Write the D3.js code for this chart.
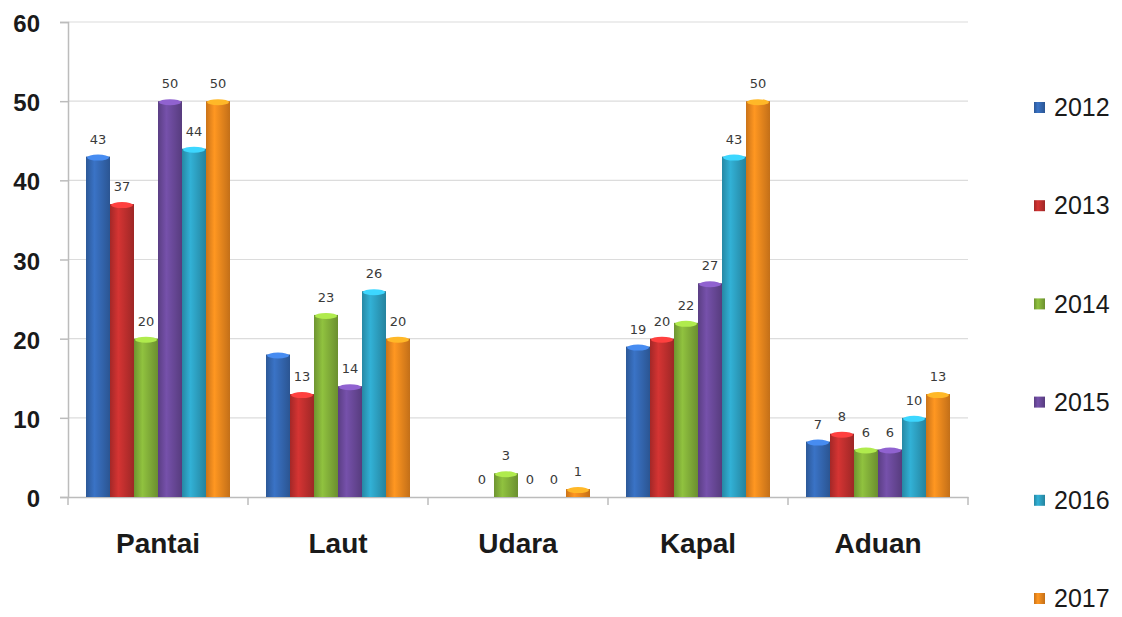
<!DOCTYPE html>
<html><head><meta charset="utf-8">
<script src="https://cdn.jsdelivr.net/npm/d3@7"></script>
<style>body{margin:0;background:#fff}svg{display:block}</style>
</head><body>
<svg id="c" width="1122" height="617"></svg>
<script>
const categories = ["Pantai","Laut","Udara","Kapal","Aduan"];
const years = ["2012","2013","2014","2015","2016","2017"];
const v2012 = [43,18,0,19,7];
const v2013 = [37,13,0,20,8];
const v2014 = [20,23,3,22,6];
const v2015 = [50,14,0,27,6];
const v2016 = [44,26,0,43,10];
const v2017 = [50,20,1,50,13];
const yTicks = [0,10,20,30,40,50,60];
// labels not shown in the original: [year index, category index]
const hiddenLabels = [[0,1],[0,2]];
const colors = ["#3569b5","#c3302f","#84b13a","#6c4a9c","#2ea2c4","#f28a1e"];

const series = [v2012,v2013,v2014,v2015,v2016,v2017];
const svg = d3.select("#c");
const mLeft=68, mRight=968, mTop=22, mBottom=497;
const x0 = d3.scaleBand().domain(categories).range([mLeft,mRight]).paddingInner(0).paddingOuter(0);
const x1 = d3.scaleBand().domain(years).range([0,x0.bandwidth()]).paddingOuter(0.75).paddingInner(0);
const y = d3.scaleLinear().domain([0,60]).range([mBottom,mTop]);

const defs = svg.append("defs");
colors.forEach((c,i)=>{
  const g = defs.append("linearGradient").attr("id","g"+i).attr("x1","0").attr("x2","1").attr("y1","0").attr("y2","0");
  const col = d3.color(c);
  g.append("stop").attr("offset","0%").attr("stop-color",col.darker(0.5));
  g.append("stop").attr("offset","35%").attr("stop-color",col.brighter(0.25));
  g.append("stop").attr("offset","100%").attr("stop-color",col.darker(0.6));
});

// gridlines
svg.append("g").selectAll("line").data(yTicks.filter(d=>d>0)).join("line")
  .attr("x1",mLeft).attr("x2",mRight).attr("y1",d=>y(d)).attr("y2",d=>y(d))
  .attr("stroke","#dcdcdc").attr("stroke-width",1.2);

// y axis
const ya = svg.append("g").attr("transform",`translate(${mLeft},0)`)
  .call(d3.axisLeft(y).tickValues(yTicks).tickSize(8).tickPadding(20));
ya.select(".domain").attr("stroke","#bcbcbc").attr("stroke-width",1.5);
ya.selectAll(".tick line").attr("stroke","#bcbcbc").attr("stroke-width",1.5);
ya.selectAll("text").attr("font-family","Liberation Sans, Arial, sans-serif").attr("font-weight","bold")
  .attr("font-size",24).attr("fill","#1a1a1a").attr("dy","0.4em");

// x axis
const xa = svg.append("g").attr("transform",`translate(0,${mBottom})`)
  .call(d3.axisBottom(x0).tickSize(0));
xa.select(".domain").attr("stroke","#bcbcbc").attr("stroke-width",1.5);
xa.selectAll("text").attr("font-family","Liberation Sans, Arial, sans-serif").attr("font-weight","bold")
  .attr("font-size",28).attr("fill","#1a1a1a").attr("y",56).attr("dy",0);
svg.append("g").selectAll("line").data(d3.range(categories.length+1)).join("line")
  .attr("x1",i=>mLeft+i*x0.bandwidth()).attr("x2",i=>mLeft+i*x0.bandwidth())
  .attr("y1",mBottom).attr("y2",mBottom+8).attr("stroke","#bcbcbc").attr("stroke-width",1.5);

// bars
const isHidden=(s,c)=>hiddenLabels.some(h=>h[0]===s&&h[1]===c);
series.forEach((vals,si)=>{
  const g = svg.append("g");
  const bw = x1.bandwidth();
  vals.forEach((v,ci)=>{
    const bx = x0(categories[ci])+x1(years[si]);
    if(v>0){
      g.append("rect").attr("x",bx).attr("y",y(v)).attr("width",bw).attr("height",mBottom-y(v))
        .attr("fill",`url(#g${si})`);
      g.append("ellipse").attr("cx",bx+bw/2).attr("cy",y(v)+1).attr("rx",bw/2-1).attr("ry",3)
        .attr("fill",d3.color(colors[si]).brighter(0.8));
    }
    if(!isHidden(si,ci)){
      g.append("text").attr("x",bx+bw/2).attr("y",y(v)-13).attr("text-anchor","middle")
        .attr("font-family","DejaVu Sans, sans-serif").attr("font-size",13).attr("fill","#3a3a3a").text(v);
    }
  });
});

// legend
const lg = svg.append("g");
years.forEach((yr,i)=>{
  const cy = 107+i*98.2;
  lg.append("rect").attr("x",1034).attr("y",cy-5).attr("width",11).attr("height",11)
    .attr("fill",`url(#g${i})`);
  lg.append("text").attr("x",1054).attr("y",cy).attr("dy","0.37em")
    .attr("font-family","Liberation Sans, Arial, sans-serif").attr("font-size",25).attr("fill","#1a1a1a").text(yr);
});
</script>
</body></html>
